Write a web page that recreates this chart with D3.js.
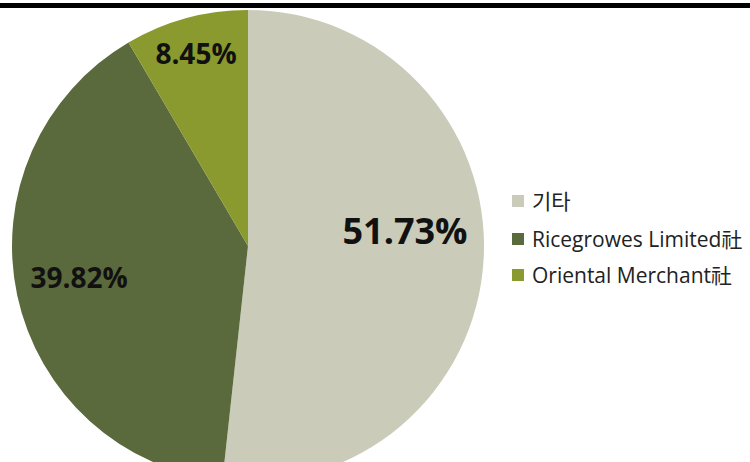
<!DOCTYPE html>
<html><head><meta charset="utf-8">
<script src="https://cdn.jsdelivr.net/npm/d3@7"></script>
<style>body{margin:0;background:#fff;}svg{display:block;}</style>
</head><body>
<svg id="c" width="750" height="462"></svg>
<script>
const categories = ["기타", "Ricegrowes Limited社", "Oriental Merchant社"];
const values = [51.73, 39.82, 8.45];
const labels = ["51.73%", "39.82%", "8.45%"];
const colors = ["#CACCB9", "#5B6A3C", "#8A9A2F"];

const svg = d3.select("#c");
svg.append("rect").attr("x",0).attr("y",3).attr("width",750).attr("height",5).attr("fill","#000");

const cx = 248, cy = 246, r = 236;
const g = svg.append("g").attr("transform", `translate(${cx},${cy})`);
const pie = d3.pie().sort(null).value(d => d)(values);
const arc = d3.arc().innerRadius(0).outerRadius(r);
g.selectAll("path").data(pie).enter().append("path")
  .attr("d", arc).attr("fill", (d,i) => colors[i]);

const labelPos = [[157, -16], [-169, 31], [-52, -193]];
const labelSize = [36, 28, 28];
g.selectAll("text.lbl").data(pie).enter().append("text")
  .attr("class","lbl")
  .attr("x", (d,i) => labelPos[i][0]).attr("y", (d,i) => labelPos[i][1])
  .attr("text-anchor","middle").attr("dominant-baseline","central")
  .attr("font-family","'Open Sans', 'Noto Sans CJK KR', sans-serif")
  .attr("font-weight","bold").attr("font-size",(d,i)=>labelSize[i]+"px")
  .attr("fill","#111").text((d,i) => labels[i]);

const lg = svg.append("g").attr("transform","translate(512,0)");
const ly = [201, 239, 275];
categories.forEach((c,i) => {
  lg.append("rect").attr("x",0).attr("y",ly[i]-6).attr("width",12).attr("height",12).attr("fill",colors[i]);
  lg.append("text").attr("x",20).attr("y",ly[i]).attr("dominant-baseline","central")
    .attr("font-family","'Open Sans', 'Noto Sans CJK KR', sans-serif")
    .attr("font-size","21px").attr("fill","#222").text(c);
});
</script>
</body></html>
